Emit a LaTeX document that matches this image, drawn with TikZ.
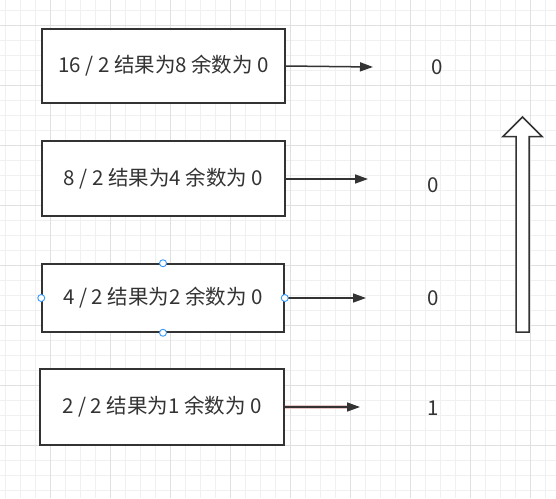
\documentclass[tikz,border=0pt]{standalone}
\usepackage{fontspec}
\setmainfont{Noto Sans CJK SC}
\usetikzlibrary{arrows.meta}
\definecolor{ink}{HTML}{333333}
\definecolor{gridminor}{HTML}{F0F0F0}
\definecolor{gridmajor}{HTML}{E0E0E0}
\definecolor{handle}{HTML}{3399FF}
\definecolor{selpink}{HTML}{E8C4C4}
\tikzset{
  stepbox/.style={draw=ink, line width=1.5pt, fill=white, minimum width=243pt, inner sep=0pt, text=ink, font=\fontsize{20.5}{24}\selectfont},
  result/.style={text=ink, inner sep=0pt, font=\fontsize{20.5}{24}\selectfont},
  link/.style={draw=ink, line width=1.5pt, -{Triangle[length=13pt,width=9pt]}},
  grip/.style={draw=handle, fill=white, line width=0.9pt, circle, minimum size=7pt, inner sep=0pt},
}
\begin{document}
\begin{tikzpicture}[x=1pt,y=-1pt]
\useasboundingbox (0,0) rectangle (556,498);
\fill[white] (0,0) rectangle (556,498);
% grid
\foreach \i in {5,20,...,556} \draw[gridminor, line width=1pt] (\i,0) -- (\i,498);
\foreach \j in {10,25,...,498} \draw[gridminor, line width=1pt] (0,\j) -- (556,\j);
\foreach \i in {50,110,...,556} \draw[gridmajor, line width=1pt] (\i,0) -- (\i,498);
\foreach \j in {25,85,...,498} \draw[gridmajor, line width=1pt] (0,\j) -- (556,\j);
% boxes
\node[stepbox, minimum height=74pt] (b1) at (163.5,66) {16 / 2 结果为8 余数为 0};
\node[stepbox, minimum height=75pt] (b2) at (163.5,178.5) {8 / 2 结果为4 余数为 0};
\node[stepbox, minimum height=68pt, minimum width=242pt] (b3) at (163,298) {4 / 2 结果为2 余数为 0};
\node[stepbox, minimum height=76pt, minimum width=244pt] (b4) at (162,407) {2 / 2 结果为1 余数为 0};
% arrow ends
\coordinate (e1) at (373,67);
\coordinate (e2) at (368,179);
\coordinate (e3) at (366,298);
\coordinate (e4) at (360,407);
\draw[link] (b1.east) -- (e1);
\draw[link] (b2.east |- e2) -- (e2);
\draw[link] (b3.east) -- (e3);
\draw[selpink, line width=3.5pt] (b4.east) -- ([xshift=-12pt]e4);
\draw[link] (b4.east) -- (e4);
% results
\node[result] (r1) at (437,67) {0};
\node[result] (r2) at (433,185) {0};
\node[result] (r3) at (433,298) {0};
\node[result] (r4) at (433,408) {1};
% selection handles
\node[grip] (h1) at (b3.north) {};
\node[grip] (h2) at (b3.south) {};
\node[grip] (h3) at (b3.west) {};
\node[grip] (h4) at (b3.east) {};
% block arrow
\draw[ink, line width=1.5pt, fill=white, line join=miter]
  (516,332) -- (516,136.5) -- (503,136.5) -- (522.5,117) -- (542,136.5) -- (529,136.5) -- (529,332) -- cycle;
\end{tikzpicture}
\end{document}
